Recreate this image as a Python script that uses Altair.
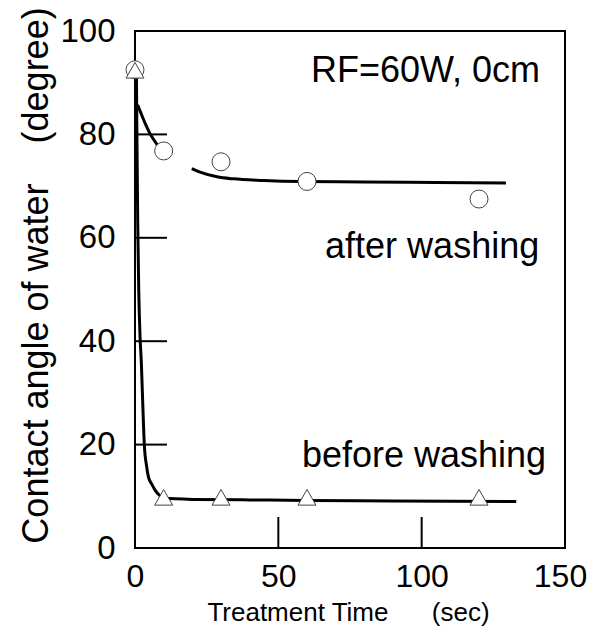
import altair as alt
import pandas as pd

# measured points
time_pts = [0, 10, 30, 60, 120]
after_vals = [92.5, 76.8, 74.7, 70.9, 67.5]
before_vals = [92.4, 9.8, 9.8, 9.8, 9.8]

# fitted curves
after_fit1_t = [0.9, 2.0, 3.5, 5.0, 6.5, 8.5]
after_fit1_v = [85.7, 84.2, 82.2, 80.4, 79.0, 77.4]
after_fit2_t = [19.8, 22.7, 28.6, 34.3, 45, 57.7, 80, 105, 129.4]
after_fit2_v = [73.4, 72.7, 71.8, 71.4, 71.1, 70.9, 70.8, 70.7, 70.6]
before_fit_t = [0.5, 0.7, 0.95, 1.3, 1.75, 2.2, 2.7, 3.25, 4.0, 4.7, 5.8, 7.0, 8.5, 10, 20, 40, 60, 90, 133]
before_fit_v = [91, 78, 63, 50, 41, 36, 28, 20, 16, 13.7, 12.4, 11.2, 10.2, 9.6, 9.4, 9.3, 9.2, 9.1, 9.0]

x_tick_vals = [50, 100]
y_tick_vals = [20, 40, 60, 80]
x_label_vals = [0, 50, 100, 150]
y_label_vals = [0, 20, 40, 60, 80, 100]

ann_text = ["RF=60W, 0cm", "after washing", "before washing"]
ann_t = [141.3, 141.0, 143.4]
ann_v = [90.1, 56.1, 15.7]

FONT = "Liberation Sans, Arial, Helvetica"

xs = alt.Scale(domain=[0, 150], nice=False, zero=False)
ys = alt.Scale(domain=[0, 100], nice=False, zero=False)

pts = pd.DataFrame({"t": time_pts, "after": after_vals, "before": before_vals})
fit_after = pd.DataFrame({
    "t": after_fit1_t + after_fit2_t,
    "v": after_fit1_v + after_fit2_v,
    "seg": ["a1"] * len(after_fit1_t) + ["a2"] * len(after_fit2_t),
})
fit_before = pd.DataFrame({"t": before_fit_t, "v": before_fit_v})
xt = pd.DataFrame({"t": x_tick_vals})
yt = pd.DataFrame({"v": y_tick_vals})
ann = pd.DataFrame({"t": ann_t, "v": ann_v, "label": ann_text})

x_axis = alt.Axis(
    values=x_label_vals, ticks=False, domain=False, grid=False,
    labelFontSize=32, labelFont=FONT, labelColor="black", labelPadding=13,
    labelFlush=False, labelOverlap=False, labelBound=False,
    labelOffset={"condition": {"test": "datum.value == 150", "value": -5}, "value": 0},
    title="Treatment Time\u00a0\u00a0\u00a0\u00a0\u00a0\u00a0(sec)",
    titleFont=FONT, titleFontSize=26, titleFontWeight="normal", titleColor="black",
    titleBaseline="alphabetic", titleX=213, titleY=72,
)
y_axis = alt.Axis(
    values=y_label_vals, ticks=False, domain=False, grid=False,
    labelFontSize=33, labelFont=FONT, labelColor="black", labelPadding=20,
    labelFlush=False, labelOverlap=False, labelBound=False,
    title="Contact angle of water\u00a0\u00a0\u00a0\u00a0(degree)",
    titleFont=FONT, titleFontSize=36, titleFontWeight="normal", titleColor="black",
    titleAngle=270, titleBaseline="alphabetic", titleX=-88, titleY=244,
)

base_x = alt.X("t:Q", scale=xs, axis=x_axis)

line_after = alt.Chart(fit_after).mark_line(color="black", strokeWidth=3, interpolate="monotone").encode(
    x=base_x, y=alt.Y("v:Q", scale=ys, axis=y_axis), detail="seg:N"
)
line_before = alt.Chart(fit_before).mark_line(color="black", strokeWidth=3, interpolate="monotone").encode(
    x=alt.X("t:Q", scale=xs), y=alt.Y("v:Q", scale=ys)
)
yticks = alt.Chart(yt).mark_rule(color="black", strokeWidth=2).encode(
    y=alt.Y("v:Q", scale=ys), x=alt.value(0), x2=alt.value(32)
)
xticks = alt.Chart(xt).mark_rule(color="black", strokeWidth=2).encode(
    x=alt.X("t:Q", scale=xs), y=alt.value(486), y2=alt.value(517)
)
circles = alt.Chart(pts).mark_point(shape="circle", size=324, filled=True, fill="white",
                                    stroke="#444444", strokeWidth=1, opacity=1).encode(
    x=alt.X("t:Q", scale=xs), y=alt.Y("after:Q", scale=ys)
)
tris = alt.Chart(pts).mark_point(shape="triangle-up", size=324, filled=True, fill="white",
                                 stroke="#444444", strokeWidth=1, opacity=1).encode(
    x=alt.X("t:Q", scale=xs), y=alt.Y("before:Q", scale=ys)
)
texts = alt.Chart(ann).mark_text(align="right", baseline="alphabetic", fontSize=36, font=FONT,
                                 color="black").encode(
    x=alt.X("t:Q", scale=xs), y=alt.Y("v:Q", scale=ys), text="label:N"
)

chart = alt.layer(line_after, line_before, yticks, xticks, circles, tris, texts).properties(
    width=430, height=517,
    autosize=alt.AutoSizeParams(type="none"),
    padding={"left": 127, "top": 23, "right": 24, "bottom": 78},
    background="white",
).configure_view(stroke="black", strokeWidth=2)

chart.save("out.html", embed_options={"renderer": "svg", "actions": False})
